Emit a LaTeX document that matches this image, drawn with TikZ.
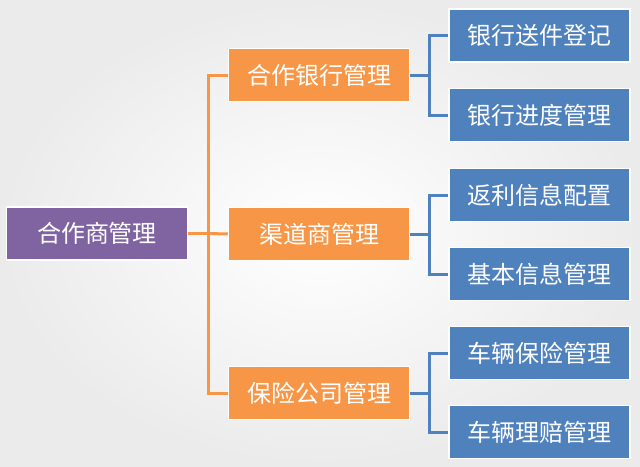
\documentclass[tikz,border=0pt]{standalone}
\usepackage{fontspec}
\newfontfamily\cjk{Noto Sans CJK SC}
\definecolor{ptpurple}{HTML}{8064A2}
\definecolor{ptorange}{HTML}{F79646}
\definecolor{ptblue}{HTML}{4F81BD}
\definecolor{ptback}{HTML}{EBEBEB}
\usepackage{tikz}
\usetikzlibrary{positioning, calc}

\begin{document}
\begin{tikzpicture}[x=1pt, y=-1pt,
    box/.style={minimum width=181pt, minimum height=53pt, draw=white, line width=1.5pt,
                text=white, font=\cjk\fontsize{24}{28}\selectfont, inner sep=0pt},
    rootbox/.style={box, fill=ptpurple},
    midbox/.style={box, fill=ptorange},
    leafbox/.style={box, fill=ptblue},
    oline/.style={ptorange, line width=3pt},
    bline/.style={ptblue, line width=3pt}
  ]
    \shade[inner color=white, outer color=ptback] (0,0) rectangle (640,466);
    \useasboundingbox (0,0) rectangle (640,466);

    \node[rootbox] (root) at (97,233.5) {合作商管理};
    \node[midbox] (bank) at (319,75) {合作银行管理};
    \node[midbox] (chan) at (319,234) {渠道商管理};
    \node[midbox] (insu) at (319,393) {保险公司管理};
    \node[leafbox] (l1) at (539.5,35.5) {银行送件登记};
    \node[leafbox] (l2) at (539.5,115) {银行进度管理};
    \node[leafbox] (l3) at (539.5,195) {返利信息配置};
    \node[leafbox] (l4) at (539.5,274) {基本信息管理};
    \node[leafbox] (l5) at (539.5,353) {车辆保险管理};
    \node[leafbox] (l6) at (539.5,432) {车辆理赔管理};

    \coordinate (rj) at (208,233.5);
    \coordinate (bj) at (429,75);
    \coordinate (cj) at (429,234);
    \coordinate (ij) at (429,393);

    \draw[oline] (root.east) -- (rj);
    \draw[oline] (rj) |- (bank.west);
    \draw[oline] (rj) -- (chan.west);
    \draw[oline] (rj) |- (insu.west);

    \draw[bline] (bank.east) -- (bj);
    \draw[bline] (bj) |- (l1.west);
    \draw[bline] (bj) |- (l2.west);
    \draw[bline] (chan.east) -- (cj);
    \draw[bline] (cj) |- (l3.west);
    \draw[bline] (cj) |- (l4.west);
    \draw[bline] (insu.east) -- (ij);
    \draw[bline] (ij) |- (l5.west);
    \draw[bline] (ij) |- (l6.west);
  \end{tikzpicture}
\end{document}
